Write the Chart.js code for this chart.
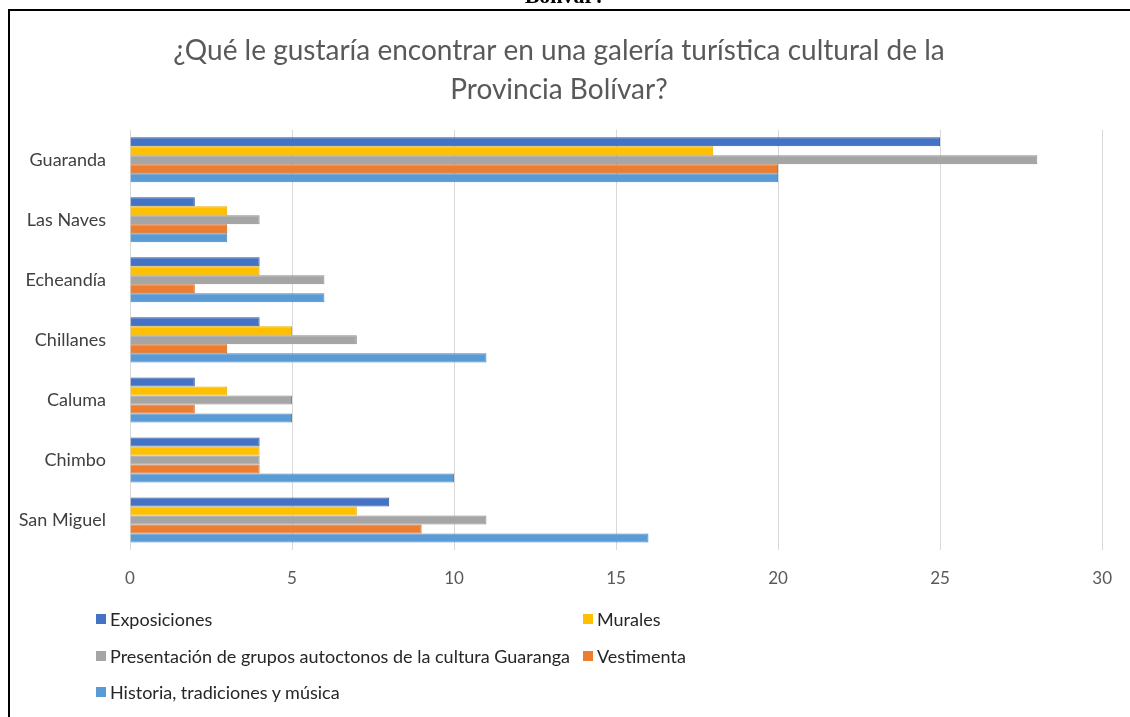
<!DOCTYPE html>
<html>
<head>
<meta charset="utf-8">
<script src="https://cdn.jsdelivr.net/npm/chart.js@4"></script>
<style>
  html, body { margin: 0; padding: 0; background: #fff; }
  #wrap { position: relative; width: 1130px; height: 717px; overflow: hidden; }
  #frame { position: absolute; left: 8px; top: 9px; width: 1200px; height: 800px; border: 2px solid #000; box-sizing: border-box; }
  #cut { position: absolute; left: 0; width: 1130px; top: -17px; text-align: center; font: bold 22px "Liberation Serif", serif; color: #000; }
  #legend { position: absolute; left: 96px; top: 607px; font: 18px Lato, sans-serif; color: #262626; }
  .item { position: absolute; white-space: nowrap; display: flex; align-items: center; height: 24px; }
  .box { width: 10px; height: 10px; margin-right: 4px; }
</style>
</head>
<body>
<div id="wrap">
  <div id="cut">Bolívar?</div>
  <div id="frame"></div>
  <canvas id="chart" width="1130" height="717"></canvas>
  <div id="legend"></div>
</div>
<script>
const categories = ['Guaranda', 'Las Naves', 'Echeandía', 'Chillanes', 'Caluma', 'Chimbo', 'San Miguel'];
const seriesNames = ['Exposiciones', 'Murales', 'Presentación de grupos autoctonos de la cultura Guaranga', 'Vestimenta', 'Historia, tradiciones y música'];
const exposiciones = [25, 2, 4, 4, 2, 4, 8];
const murales = [18, 3, 4, 5, 3, 4, 7];
const presentacion = [28, 4, 6, 7, 5, 4, 11];
const vestimenta = [20, 3, 2, 3, 2, 4, 9];
const historia = [20, 3, 6, 11, 5, 10, 16];
const xTicks = [0, 5, 10, 15, 20, 25, 30];

const colors = ['#4472C4', '#FFC000', '#A5A5A5', '#ED7D31', '#5B9BD5'];
const borders = ['#2F5597', '#E6AC00', '#8C8C8C', '#C9651F', '#4A86BF'];
const values = [exposiciones, murales, presentacion, vestimenta, historia];

const datasets = seriesNames.map((name, i) => ({
  label: name,
  data: values[i],
  backgroundColor: colors[i],
  borderColor: borders[i],
  borderWidth: 1,
  barPercentage: 1,
  categoryPercentage: 0.75
}));

new Chart(document.getElementById('chart'), {
  type: 'bar',
  data: { labels: categories, datasets: datasets },
  options: {
    indexAxis: 'y',
    responsive: false,
    animation: false,
    layout: { padding: { left: 10, right: 22, top: 0, bottom: 0 } },
    plugins: {
      legend: { display: false },
      tooltip: { enabled: false },
      title: {
        display: true,
        text: ['¿Qué le gustaría encontrar en una galería turística cultural de la', 'Provincia Bolívar?'],
        color: '#595959',
        font: { family: 'Lato', size: 28, weight: 'normal', lineHeight: 1.37 },
        padding: { top: 32, bottom: 21 }
      }
    },
    scales: {
      x: {
        min: 0, max: 30,
        afterFit: s => { s.height = 167; },
        afterBuildTicks: s => { s.ticks = xTicks.map(v => ({ value: v })); },
        grid: { color: '#d9d9d9', drawTicks: false },
        border: { display: false },
        ticks: { color: '#595959', padding: 18, font: { family: 'Lato', size: 17 } }
      },
      y: {
        afterFit: s => { s.width = 120; },
        grid: { display: false },
        border: { display: false },
        ticks: { color: '#404040', padding: 16, font: { family: 'Lato', size: 18 } }
      }
    }
  }
});

// legend laid out in two columns like the original
const legendPos = [[0, 0], [487, 0], [0, 37], [487, 37], [0, 73]];
const legend = document.getElementById('legend');
seriesNames.forEach((name, i) => {
  const it = document.createElement('div');
  it.className = 'item';
  it.style.left = legendPos[i][0] + 'px';
  it.style.top = legendPos[i][1] + 'px';
  it.innerHTML = '<span class="box" style="background:' + colors[i] + '"></span><span>' + name + '</span>';
  legend.appendChild(it);
});
</script>
</body>
</html>
